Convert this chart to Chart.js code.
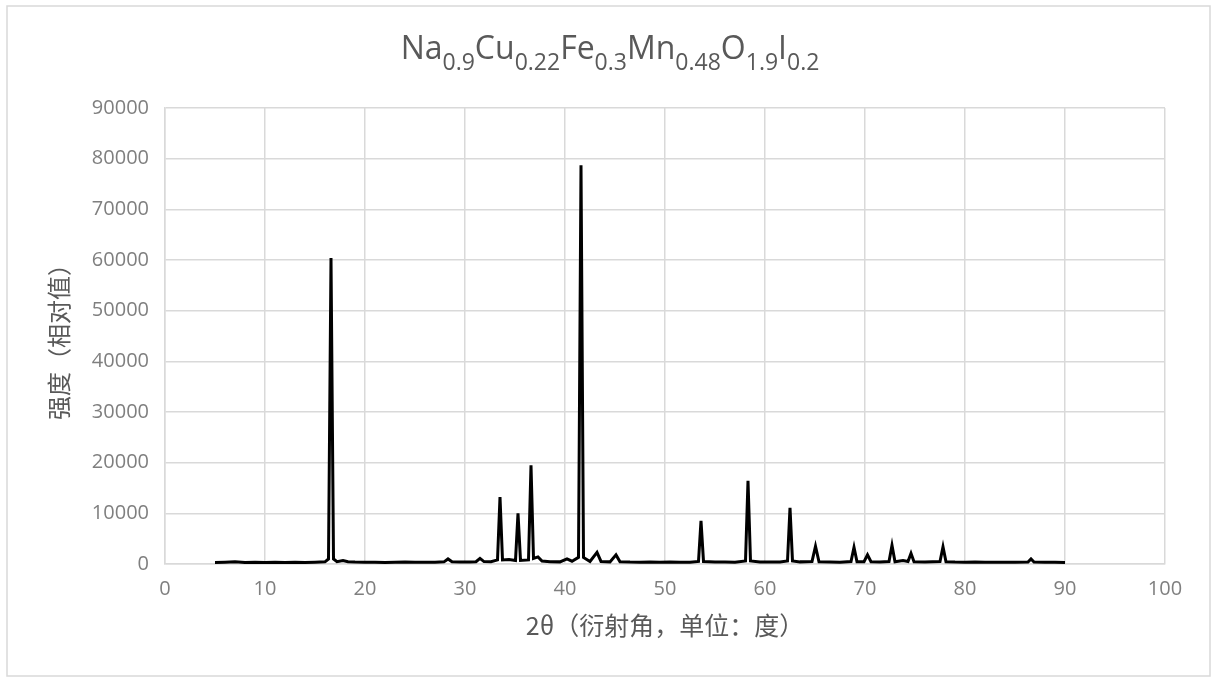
<!DOCTYPE html>
<html>
<head>
<meta charset="utf-8">
<script src="https://cdn.jsdelivr.net/npm/chart.js@4"></script>
<style>
  html, body { margin: 0; padding: 0; background: #fff; }
  #wrap { width: 1212px; height: 678px; }
</style>
</head>
<body>
<div id="wrap"><canvas id="xrdChart" width="1212" height="678"></canvas></div>
<script>
// title pieces: [text, isSubscript]
var titleParts = [
  ['Na', false], ['0.9', true], ['Cu', false], ['0.22', true], ['Fe', false], ['0.3', true],
  ['Mn', false], ['0.48', true], ['O', false], ['1.9', true], ['I', false], ['0.2', true]
];
var xTitle = '2θ（衍射角，单位：度）';
var yTitle = '强度（相对值）';

// 2θ (deg) and intensity
var twoTheta = [
  5.0, 6.0, 7.0, 8.0, 9.0, 10.0, 11.0, 12.0, 13.0, 14.0, 15.0, 16.0,
  16.35, 16.6, 16.85, 17.2, 17.8, 18.3, 19.0, 20.0, 21.0, 22.0, 23.0, 24.0,
  25.0, 26.0, 27.0, 27.9, 28.3, 28.7, 29.5, 30.5, 31.1, 31.5, 31.9, 32.6,
  33.25, 33.5, 33.75, 34.4, 35.05, 35.3, 35.55, 36.35, 36.6, 36.85, 37.3, 37.7,
  38.5, 39.5, 40.2, 40.7, 41.35, 41.6, 41.85, 42.5, 43.2, 43.6, 44.5, 45.1,
  45.5, 46.5, 47.5, 48.5, 49.5, 50.5, 51.5, 52.5, 53.35, 53.6, 53.85, 55.0,
  56.0, 57.0, 58.05, 58.3, 58.55, 59.5, 60.5, 61.5, 62.25, 62.5, 62.75, 63.5,
  64.7, 65.05, 65.4, 66.5, 67.5, 68.6, 68.9, 69.2, 69.9, 70.25, 70.6, 71.5,
  72.4, 72.7, 73.0, 73.8, 74.3, 74.6, 74.9, 76.0, 77.5, 77.8, 78.1, 79.0,
  80.0, 81.0, 82.0, 83.0, 84.0, 85.0, 86.3, 86.6, 86.9, 88.0, 89.0, 90.0
];
var intensity = [
  300, 360, 420, 310, 350, 290, 340, 300, 360, 320, 350, 420,
  1000, 60400, 1000, 450, 700, 450, 380, 330, 360, 320, 350, 380,
  340, 330, 360, 420, 1000, 450, 380, 400, 450, 1100, 480, 450,
  800, 13200, 800, 900, 700, 10000, 700, 800, 19500, 1100, 1400, 600,
  450, 420, 1000, 550, 1300, 78700, 1300, 500, 2300, 500, 420, 1800,
  450, 380, 360, 400, 350, 380, 340, 360, 500, 8500, 500, 400,
  380, 360, 600, 16400, 600, 400, 380, 400, 600, 11100, 600, 420,
  500, 3500, 450, 380, 360, 500, 3300, 450, 450, 1800, 450, 380,
  500, 3700, 450, 700, 500, 2100, 450, 400, 500, 3400, 450, 380,
  360, 380, 350, 360, 340, 350, 400, 1000, 400, 350, 330, 300
];

var xMin = 0, xMax = 100, xStep = 10;
var yMin = 0, yMax = 90000, yStep = 10000;

var cjkFont = '"Noto Sans CJK SC", sans-serif';
var latinFont = '"Open Sans", "Noto Sans", sans-serif';
var gridColor = '#d9d9d9';

var points = twoTheta.map(function (t, i) { return { x: t, y: intensity[i] }; });

var frameAndTitle = {
  id: 'frameAndTitle',
  beforeDraw: function (chart) {
    var ctx = chart.ctx;
    ctx.save();
    ctx.fillStyle = '#fff';
    ctx.fillRect(0, 0, chart.width, chart.height);
    ctx.strokeStyle = gridColor;
    ctx.lineWidth = 1.5;
    ctx.strokeRect(7, 6, 1203, 670);
    ctx.restore();
  },
  afterDraw: function (chart) {
    var ctx = chart.ctx;
    var big = '32px ' + latinFont, small = '23px ' + latinFont;
    ctx.save();
    var total = 0;
    titleParts.forEach(function (p) {
      ctx.font = p[1] ? small : big;
      total += ctx.measureText(p[0]).width;
    });
    var x = 610 - total / 2, base = 59;
    ctx.fillStyle = '#595959';
    ctx.textBaseline = 'alphabetic';
    ctx.textAlign = 'left';
    titleParts.forEach(function (p) {
      ctx.font = p[1] ? small : big;
      ctx.fillText(p[0], x, p[1] ? base + 11 : base);
      x += ctx.measureText(p[0]).width;
    });
    ctx.restore();
  }
};

new Chart(document.getElementById('xrdChart').getContext('2d'), {
  type: 'scatter',
  data: {
    datasets: [{
      data: points,
      showLine: true,
      borderColor: '#000',
      borderWidth: 3,
      pointRadius: 0,
      tension: 0
    }]
  },
  options: {
    responsive: false,
    animation: false,
    layout: { padding: { top: 108, right: 47, bottom: 0, left: 0 } },
    plugins: { legend: { display: false }, tooltip: { enabled: false } },
    scales: {
      x: {
        type: 'linear',
        min: xMin, max: xMax,
        afterFit: function (s) { s.height = 114; },
        ticks: { stepSize: xStep, color: '#7f7f7f', padding: 13, font: { family: latinFont, size: 20 } },
        grid: { color: gridColor, lineWidth: 1.5, drawTicks: false },
        border: { color: gridColor, width: 1.5 },
        title: { display: true, text: xTitle, color: '#595959', padding: { top: 0, bottom: 38 }, font: { family: cjkFont, size: 25 } }
      },
      y: {
        min: yMin, max: yMax,
        afterFit: function (s) { s.width = 165; },
        ticks: {
          stepSize: yStep, color: '#7f7f7f', padding: 16, font: { family: latinFont, size: 20 },
          callback: function (v) { return String(v); }
        },
        grid: { color: gridColor, lineWidth: 1.5, drawTicks: false },
        border: { color: gridColor, width: 1.5 },
        title: { display: true, text: yTitle, color: '#595959', padding: { top: 44, bottom: 0 }, font: { family: cjkFont, size: 24 } }
      }
    }
  },
  plugins: [frameAndTitle]
});
</script>
</body>
</html>
